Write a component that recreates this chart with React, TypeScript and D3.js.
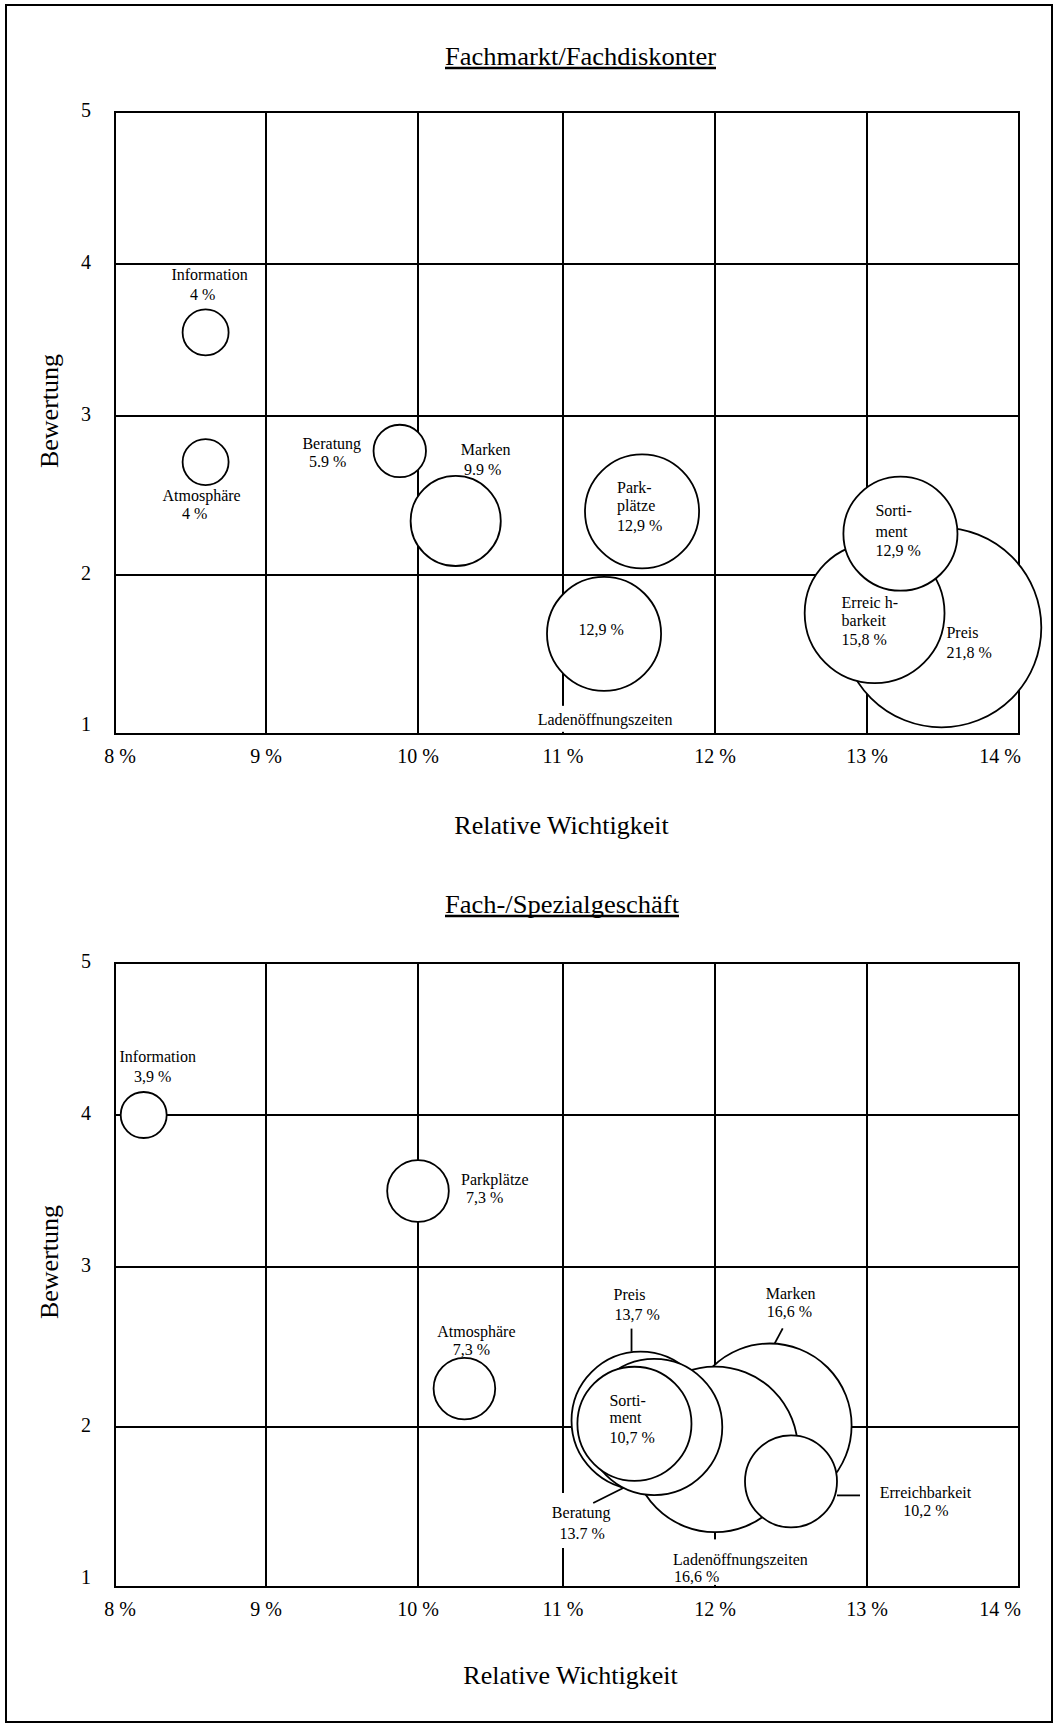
import React from 'react';
import * as d3 from 'd3';

// Achsen
const xWerte = [8, 9, 10, 11, 12, 13, 14];
const yWerte = [1, 2, 3, 4, 5];
const xTickLabels = ['8 %', '9 %', '10 %', '11 %', '12 %', '13 %', '14 %'];
const yTickLabels = ['1', '2', '3', '4', '5'];

// Fachmarkt/Fachdiskonter (in Zeichenreihenfolge)
const fmMerkmale = ['Information', 'Atmosphäre', 'Beratung', 'Marken', 'Parkplätze', 'Ladenöffnungszeiten', 'Preis', 'Erreichbarkeit', 'Sortiment'];
const fmWichtigkeit = [8.6, 8.6, 9.88, 10.26, 11.52, 11.27, 13.49, 13.05, 13.22];
const fmBewertung = [3.55, 2.71, 2.78, 2.34, 2.4, 1.63, 1.67, 1.76, 2.26];
const fmKreis = [5.0, 5.0, 5.7, 9.8, 12.4, 12.4, 21.7, 15.2, 12.4];
const fmZeilen = [
  ['Information', '4 %'],
  ['Atmosphäre', '4 %'],
  ['Beratung', '5.9 %'],
  ['Marken', '9.9 %'],
  ['Park-', 'plätze', '12,9 %'],
  ['12,9 %', 'Ladenöffnungszeiten'],
  ['Preis', '21,8 %'],
  ['Erreic h-', 'barkeit', '15,8 %'],
  ['Sorti-', 'ment', '12,9 %'],
];

// Fach-/Spezialgeschäft (in Zeichenreihenfolge)
const ssMerkmale = ['Information', 'Parkplätze', 'Atmosphäre', 'Marken', 'Ladenöffnungszeiten', 'Erreichbarkeit', 'Preis', 'Beratung', 'Sortiment'];
const ssWichtigkeit = [8.19, 10.0, 10.32, 12.36, 12.0, 12.5, 11.51, 11.6, 11.47];
const ssBewertung = [4.0, 3.5, 2.24, 2.01, 1.86, 1.66, 2.04, 2.0, 2.02];
const ssKreis = [5.0, 6.7, 6.7, 17.8, 18.0, 10.0, 15.0, 14.8, 12.4];
const ssZeilen = [
  ['Information', '3,9 %'],
  ['Parkplätze', '7,3 %'],
  ['Atmosphäre', '7,3 %'],
  ['Marken', '16,6 %'],
  ['Ladenöffnungszeiten', '16,6 %'],
  ['Erreichbarkeit', '10,2 %'],
  ['Preis', '13,7 %'],
  ['Beratung', '13.7 %'],
  ['Sorti-', 'ment', '10,7 %'],
];

type Layout = {
  anchor: 'start' | 'middle' | 'end';
  pos: number[][];
  box?: number[];
  leader?: number[];
};

// label placement relative to bubble centre
const fmLayout: Layout[] = [
  { anchor: 'middle', pos: [[4, -52], [-3, -32]] },
  { anchor: 'middle', pos: [[-4, 39], [-11, 57]] },
  { anchor: 'middle', pos: [[-68, -2], [-72, 16]] },
  { anchor: 'middle', pos: [[30, -66], [27, -46]] },
  { anchor: 'start', pos: [[-25, -18], [-25, 0], [-25, 20]] },
  { anchor: 'middle', pos: [[-3, 1], [1, 91]], box: [-67, 72, 69, 98] },
  { anchor: 'start', pos: [[5, 11], [5, 31]] },
  { anchor: 'start', pos: [[-33, -5], [-33, 13], [-33, 32]] },
  { anchor: 'start', pos: [[-25, -18], [-25, 3], [-25, 22]] },
];

const ssLayout: Layout[] = [
  { anchor: 'middle', pos: [[14, -53], [9, -33]] },
  { anchor: 'start', pos: [[43, -6], [48, 12]] },
  { anchor: 'middle', pos: [[12, -51.5], [7, -34]] },
  { anchor: 'start', pos: [[-4, -126], [-3, -108]], leader: [13, -97, 5, -82] },
  { anchor: 'start', pos: [[-42, 116], [-41, 133]], box: [-44, 90, 95, 135.5] },
  { anchor: 'middle', pos: [[134.5, 16.7], [135, 35]], leader: [46, 14, 69, 14] },
  { anchor: 'start', pos: [[-27, -121], [-26, -101]], leader: [-9, -92, -9, -69] },
  { anchor: 'middle', pos: [[-73, 91], [-72, 112]], leader: [-61, 76, -31, 61], box: [-103, 66, -43, 121] },
  { anchor: 'start', pos: [[-25, -18], [-25, -1], [-25, 19]] },
];

const FONT = "'Liberation Serif', 'Times New Roman', serif";

const x = d3.scaleLinear().domain(xWerte).range([115, 266, 418, 563, 715, 867, 1019]);
const r = d3.scaleLinear().domain([0, 1]).range([0, 4.6]);

type PanelProps = {
  titel: string;
  titelY: number;
  titelBreite: number;
  yRange: number[];
  achseX: number;
  achseY: number;
  wichtigkeit: number[];
  bewertung: number[];
  kreis: number[];
  zeilen: string[][];
  layout: Layout[];
  merkmale: string[];
};

const Panel = (p: PanelProps) => {
  const y = d3.scaleLinear().domain(yWerte).range(p.yRange);
  const top = y(5);
  const bottom = y(1);
  const pts = p.merkmale.map((m, i) => ({
    m,
    cx: x(p.wichtigkeit[i]),
    cy: y(p.bewertung[i]),
    r: r(p.kreis[i]),
    lay: p.layout[i],
    zeilen: p.zeilen[i],
  }));

  return (
    <g fontFamily={FONT} fill="#000">
      {/* Titel */}
      <text x={445} y={p.titelY} fontSize={26} textLength={p.titelBreite} lengthAdjust="spacingAndGlyphs">{p.titel}</text>
      <line x1={445} x2={445 + p.titelBreite} y1={p.titelY + 3} y2={p.titelY + 3} stroke="#000" strokeWidth={2.5} />

      {/* Gitter */}
      {yWerte.map(v => (
        <line key={'h' + v} x1={x(8)} x2={x(14)} y1={y(v)} y2={y(v)} stroke="#000" strokeWidth={2} strokeLinecap="square" />
      ))}
      {xWerte.map(v => (
        <line key={'v' + v} x1={x(v)} x2={x(v)} y1={top} y2={bottom} stroke="#000" strokeWidth={2} strokeLinecap="square" />
      ))}

      {/* weiße Hintergründe der Beschriftungen */}
      {pts.filter(d => d.lay.box).map(d => (
        <rect key={'b' + d.m} x={d.cx + d.lay.box![0]} y={d.cy + d.lay.box![1]}
          width={d.lay.box![2] - d.lay.box![0]} height={d.lay.box![3] - d.lay.box![1]} fill="#fff" />
      ))}

      {/* Blasen */}
      {pts.map(d => (
        <circle key={'c' + d.m} cx={d.cx} cy={d.cy} r={d.r} fill="#fff" stroke="#000" strokeWidth={1.8} />
      ))}

      {/* Hinweislinien */}
      {pts.filter(d => d.lay.leader).map(d => (
        <line key={'l' + d.m} x1={d.cx + d.lay.leader![0]} y1={d.cy + d.lay.leader![1]}
          x2={d.cx + d.lay.leader![2]} y2={d.cy + d.lay.leader![3]} stroke="#000" strokeWidth={1.8} />
      ))}

      {/* Beschriftungen */}
      {pts.map(d => d.zeilen.map((z, j) => (
        <text key={'t' + d.m + j} x={d.cx + d.lay.pos[j][0]} y={d.cy + d.lay.pos[j][1]}
          fontSize={16} textAnchor={d.lay.anchor}>{z}</text>
      )))}

      {/* y-Achse */}
      {yWerte.map((v, i) => (
        <text key={'yt' + v} x={86} y={y(v) + (v === 1 ? -3 : 5)} fontSize={20} textAnchor="middle">{yTickLabels[i]}</text>
      ))}
      <text transform={`translate(58,${top + 299}) rotate(-90)`} fontSize={26} textAnchor="middle">Bewertung</text>

      {/* x-Achse */}
      {xWerte.map((v, i) => (
        <text key={'xt' + v}
          x={i === 0 ? x(v) + 5 : i === xWerte.length - 1 ? x(v) + 2 : x(v)}
          y={bottom + 29} fontSize={20}
          textAnchor={i === xWerte.length - 1 ? 'end' : 'middle'}>{xTickLabels[i]}</text>
      ))}
      <text x={p.achseX} y={p.achseY} fontSize={26} textAnchor="middle">Relative Wichtigkeit</text>
    </g>
  );
};

const App = () => {
  return (
    <svg width={1055} height={1725} style={{ position: 'absolute', left: 0, top: 0, background: '#fff' }}>
      <rect x={6} y={5} width={1046} height={1717} fill="#fff" stroke="#000" strokeWidth={2} />
      <Panel
        titel="Fachmarkt/Fachdiskonter" titelY={65} titelBreite={271}
        yRange={[734, 575, 416, 264, 112]}
        achseX={561.5} achseY={834}
        wichtigkeit={fmWichtigkeit} bewertung={fmBewertung} kreis={fmKreis}
        zeilen={fmZeilen} layout={fmLayout} merkmale={fmMerkmale}
      />
      <Panel
        titel="Fach-/Spezialgeschäft" titelY={913} titelBreite={234}
        yRange={[1587, 1427, 1267, 1115, 963]}
        achseX={570.5} achseY={1684}
        wichtigkeit={ssWichtigkeit} bewertung={ssBewertung} kreis={ssKreis}
        zeilen={ssZeilen} layout={ssLayout} merkmale={ssMerkmale}
      />
    </svg>
  );
};

export default App;
